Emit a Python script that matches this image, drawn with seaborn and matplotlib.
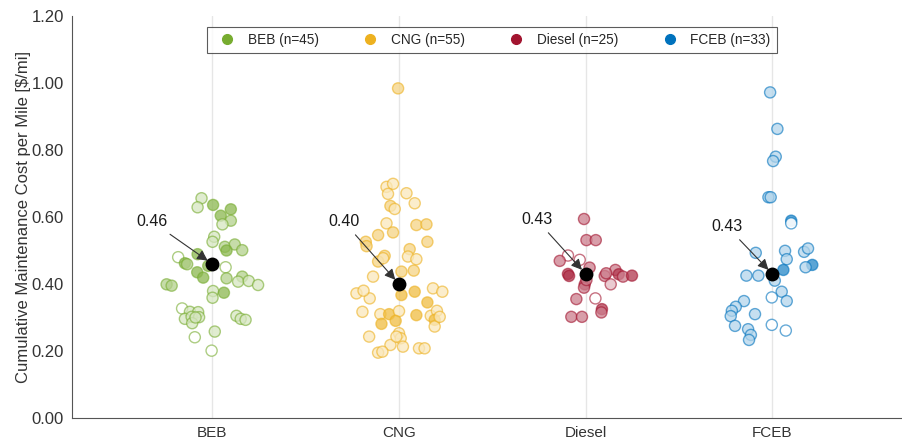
import numpy as np
import pandas as pd
import matplotlib
matplotlib.use("Agg")
import matplotlib.pyplot as plt
import seaborn as sns
from matplotlib.lines import Line2D
from matplotlib.colors import to_rgb

# ---------------- data ----------------
categories = ["BEB", "CNG", "Diesel", "FCEB"]
counts = [45, 55, 25, 33]
means = [0.46, 0.40, 0.43, 0.43]

# cost per mile [$ / mi]
beb_cost = [0.656, 0.629, 0.636, 0.623, 0.604, 0.589, 0.578, 0.541, 0.526, 0.511,
            0.518, 0.500, 0.501, 0.480, 0.489, 0.462, 0.459, 0.454, 0.450, 0.435,
            0.419, 0.417, 0.422, 0.407, 0.409, 0.397, 0.399, 0.395, 0.379, 0.374,
            0.359, 0.327, 0.317, 0.316, 0.296, 0.302, 0.301, 0.283, 0.305, 0.296,
            0.293, 0.258, 0.241, 0.201, 0.300]
cng_cost = [0.984, 0.690, 0.699, 0.669, 0.671, 0.641, 0.633, 0.624, 0.581, 0.576,
            0.578, 0.554, 0.546, 0.526, 0.526, 0.513, 0.504, 0.482, 0.474, 0.484,
            0.467, 0.437, 0.440, 0.422, 0.372, 0.357, 0.367, 0.377, 0.387, 0.377,
            0.345, 0.317, 0.310, 0.310, 0.319, 0.290, 0.281, 0.307, 0.305, 0.320,
            0.293, 0.273, 0.243, 0.253, 0.238, 0.218, 0.213, 0.195, 0.198, 0.208,
            0.208, 0.477, 0.302, 0.243, 0.380]
diesel_cost = [0.594, 0.531, 0.531, 0.485, 0.472, 0.469, 0.449, 0.430, 0.424, 0.424,
               0.442, 0.429, 0.422, 0.425, 0.399, 0.389, 0.399, 0.355, 0.357, 0.325,
               0.315, 0.302, 0.302, 0.412, 0.432]
fceb_cost = [0.972, 0.863, 0.780, 0.767, 0.659, 0.659, 0.589, 0.581, 0.493, 0.499,
             0.496, 0.506, 0.474, 0.457, 0.450, 0.442, 0.425, 0.425, 0.410, 0.377,
             0.360, 0.349, 0.349, 0.332, 0.320, 0.304, 0.310, 0.275, 0.278, 0.265,
             0.261, 0.248, 0.233]

# horizontal jitter of each point, in category widths
beb_jitter = [-0.058, -0.079, 0.004, 0.099, 0.045, 0.099, 0.054, 0.010, 0.001, 0.067,
              0.120, 0.076, 0.160, -0.183, -0.079, -0.147, -0.135, -0.022, 0.071, -0.081,
              -0.049, 0.076, 0.160, 0.138, 0.195, 0.245, -0.245, -0.218, 0.004, 0.062,
              0.001, -0.162, -0.120, -0.076, -0.147, -0.111, -0.071, -0.108, 0.129, 0.152,
              0.178, 0.013, -0.094, -0.004, -0.090]
cng_jitter = [-0.005, -0.067, -0.032, -0.059, 0.040, 0.084, -0.046, -0.023, -0.067, 0.093,
              0.147, -0.032, -0.112, 0.152, -0.178, -0.174, 0.057, 0.048, 0.093, -0.077,
              -0.112, 0.013, 0.079, -0.139, -0.228, -0.157, 0.013, 0.084, 0.182, 0.232,
              0.152, -0.196, -0.100, -0.053, 0.000, -0.018, -0.094, 0.093, 0.170, 0.203,
              0.191, 0.191, -0.160, 0.000, 0.009, -0.046, 0.021, -0.112, -0.089, 0.107,
              0.137, -0.085, 0.218, -0.014, -0.190]
diesel_jitter = [-0.009, 0.004, 0.054, -0.095, -0.032, -0.139, 0.021, -0.095, -0.089, 0.102,
                 0.159, 0.177, 0.200, 0.248, -0.005, -0.009, 0.134, -0.050, 0.052, 0.087,
                 0.084, -0.077, -0.020, 0.004, 0.110]
fceb_jitter = [-0.012, 0.027, 0.018, 0.004, -0.021, -0.009, 0.101, 0.101, -0.089, 0.068,
               0.170, 0.191, 0.077, 0.214, 0.178, 0.059, -0.139, -0.075, 0.013, 0.050,
               -0.003, 0.077, -0.152, -0.196, -0.217, -0.223, -0.093, -0.200, -0.003, -0.130,
               0.072, -0.115, -0.125]

# fill shade of each marker as seen in the picture: 0 hollow, 1 light, 2 medium, 3 solid
beb_shade = [1, 1, 3, 3, 3, 2, 1, 1, 1, 2, 2, 3, 2, 0, 3, 3, 2, 3, 0, 3,
             3, 2, 2, 1, 1, 1, 2, 2, 1, 3, 1, 0, 1, 1, 1, 1, 1, 1, 1, 1,
             1, 1, 0, 0, 1]
cng_shade = [2, 1, 1, 1, 1, 1, 2, 1, 1, 2, 2, 2, 2, 2, 2, 2, 2, 1, 1, 2,
             2, 2, 2, 1, 1, 1, 3, 3, 1, 1, 3, 1, 1, 3, 1, 3, 3, 3, 1, 1,
             3, 1, 1, 1, 1, 1, 1, 1, 1, 1, 1, 1, 1, 1, 1]
diesel_shade = [2, 2, 2, 0, 0, 2, 2, 3, 3, 2, 2, 3, 2, 3, 3, 2, 1, 2, 0, 3,
                2, 2, 2, 2, 2]
fceb_shade = [1, 1, 1, 1, 1, 1, 3, 0, 1, 1, 1, 1, 1, 3, 1, 3, 1, 1, 1, 1,
              0, 1, 1, 1, 1, 1, 1, 1, 0, 1, 0, 1, 1]

colors = ["#77AC30", "#EDB120", "#A2142F", "#0072BD"]

costs = [beb_cost, cng_cost, diesel_cost, fceb_cost]
jitters = [beb_jitter, cng_jitter, diesel_jitter, fceb_jitter]
shades = [beb_shade, cng_shade, diesel_shade, fceb_shade]

frames = []
for i, cat in enumerate(categories):
    frames.append(pd.DataFrame({"bus": cat, "pos": i + np.array(jitters[i]),
                                "cost": costs[i], "shade": shades[i]}))
df = pd.concat(frames, ignore_index=True)
mean_df = pd.DataFrame({"bus": categories, "pos": np.arange(len(categories)), "cost": means})

# ---------------- plot ----------------
sns.set_theme(style="white")
plt.rcParams["font.family"] = ["Liberation Sans", "DejaVu Sans"]

fig = plt.figure(figsize=(9.03, 4.46), dpi=100)
ax = fig.add_axes([0.0797, 0.0628, 0.9193, 0.9013])

shade_alpha = {0: 0.0, 1: 0.3, 2: 0.55, 3: 0.85}
for i, cat in enumerate(categories):
    sub = df[df["bus"] == cat]
    before = len(ax.collections)
    sns.scatterplot(data=sub, x="pos", y="cost", ax=ax, color=colors[i],
                    s=64, linewidth=1.0, legend=False, zorder=3)
    coll = ax.collections[before]
    rgb = to_rgb(colors[i])
    face = []
    for sh in sub["shade"]:
        a = shade_alpha[sh]
        face.append((1 - a + a * rgb[0], 1 - a + a * rgb[1], 1 - a + a * rgb[2], 0.75 if sh else 0.9))
    coll.set_facecolors(face)
    coll.set_edgecolors([(*rgb, 0.6)] * len(sub))

sns.scatterplot(data=mean_df, x="pos", y="cost", ax=ax, color="black", s=100,
                linewidth=0, legend=False, zorder=5)

text_offsets = [(-60, 42), (-55, 62), (-49, 54), (-45, 47)]
for i, m in enumerate(means):
    ax.annotate(f"{m:.2f}", xy=(i, m), xytext=text_offsets[i], textcoords="offset pixels",
                ha="center", va="center", fontsize=11.5, color="#1a1a1a", zorder=6,
                arrowprops=dict(arrowstyle="-|>", color="#333333", lw=0.8,
                                mutation_scale=16, shrinkA=2, shrinkB=4))

ax.set_xlim(-0.752, 3.695)
ax.set_ylim(0, 1.2)
ax.set_xticks(range(len(categories)))
ax.set_xticklabels(categories)
ax.set_yticks(np.arange(0, 1.21, 0.2))
ax.set_yticklabels([f"{v:.2f}" for v in np.arange(0, 1.21, 0.2)])
ax.tick_params(axis="both", length=0, colors="#333333", pad=6)
ax.tick_params(axis="y", labelsize=12)
ax.tick_params(axis="x", labelsize=11)
ax.set_xlabel("")
ax.set_ylabel("Cumulative Maintenance Cost per Mile [$/mi]", fontsize=12, color="#333333",
              labelpad=0)
ax.xaxis.grid(True, color="#e6e6e6", lw=1, zorder=0)
ax.yaxis.grid(False)
for side in ["top", "right"]:
    ax.spines[side].set_visible(False)
for side in ["left", "bottom"]:
    ax.spines[side].set_color("#555555")
    ax.spines[side].set_linewidth(0.8)

handles = [Line2D([], [], marker="o", ls="", color=c, markersize=7) for c in colors]
labels = [f"{c} (n={n})" for c, n in zip(categories, counts)]
leg = ax.legend(handles, labels, loc="upper center", bbox_to_anchor=(0.506, 0.9726),
                ncol=4, frameon=True, fancybox=False, fontsize=9.8,
                handlelength=2.0, handletextpad=0.5, columnspacing=2.8,
                borderpad=0.45, borderaxespad=0.0)
leg.get_frame().set_edgecolor("#333333")
leg.get_frame().set_linewidth(0.8)

fig.savefig("out.png", dpi=100)
